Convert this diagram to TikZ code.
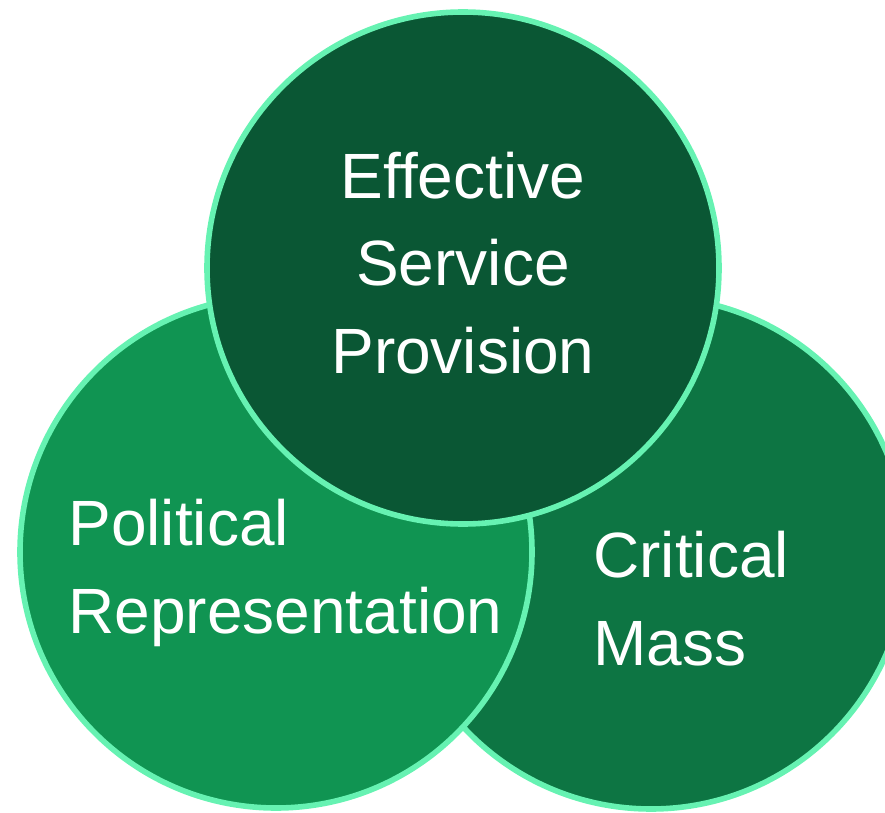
\documentclass[tikz,border=0pt]{standalone}
\usepackage{fontspec}
\setmainfont{Liberation Sans}
\usepackage{tikz}
\usetikzlibrary{positioning}
\definecolor{topgreen}{HTML}{0A5734}
\definecolor{leftgreen}{HTML}{109452}
\definecolor{rightgreen}{HTML}{0D7543}
\definecolor{mint}{HTML}{66F2B2}

\begin{document}
\begin{tikzpicture}[x=0.5pt, y=-0.5pt,
                    ring/.style={draw=mint, line width=2.8pt},
                    label/.style={text=white, inner sep=0pt,
                                  font=\fontsize{32pt}{43.75pt}\selectfont}]
                    \useasboundingbox (0,0) rectangle (885,813);

                    % circles, back to front
                    \draw[ring, fill=rightgreen] (651,553) circle[radius=128pt];
                    \draw[ring, fill=leftgreen] (276,552) circle[radius=128pt];
                    \draw[ring, fill=topgreen] (463,268) circle[radius=128pt];

                    % base anchor sits on the last line
                    \node[label, align=center, anchor=base] (service) at (463,373) {Effective \\ Service \\ Provision};
                    \node[label, align=left, anchor=base west] (political) at (68,633) {Political \\ Representation};
                    \node[label, align=left, anchor=base west] (mass) at (593,665) {Critical \\ Mass};
                \end{tikzpicture}
\end{document}
